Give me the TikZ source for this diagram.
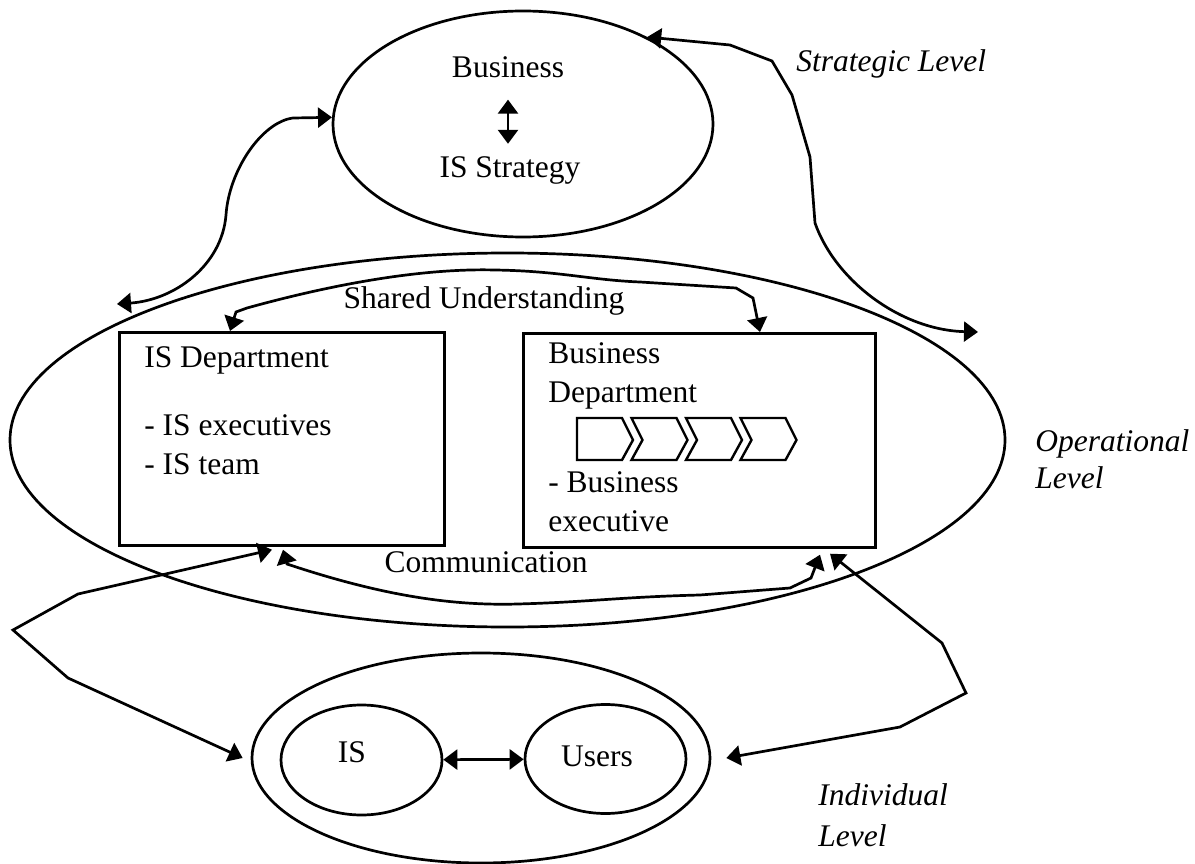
\documentclass[tikz,border=0pt]{standalone}
\usepackage{fontspec}
\setmainfont{Liberation Serif}
\usepackage{tikz}
\usetikzlibrary{shapes.geometric,arrows.meta,positioning}

\begin{document}
\begin{tikzpicture}[
        x=1pt, y=-1pt,
        font=\fontsize{31.5}{39}\selectfont,
        line width=2.7pt,
        oval/.style={
            ellipse,
            draw,
            inner sep=0pt
        },
        dept/.style={
            rectangle,
            draw,
            anchor=north west,
            inner sep=0pt
        },
        txt/.style={
            inner sep=2pt,
            anchor=base west
        },
        level/.style={
            txt,
            font=\fontsize{31.5}{39}\selectfont\itshape
        },
        arrow/.style={
            <->,
            >={Triangle[length=14pt,width=20pt]}
        },
        chev/.style={
            line width=2.4pt,
            line join=miter
        }
    ]
    \useasboundingbox (0,0) rectangle (1195,864);

    % the three levels
    \node[oval, minimum width=380, minimum height=226] (strat) at (523,124) {};
    \node[oval, minimum width=995, minimum height=374] (oper) at (507.5,440) {};
    \node[oval, minimum width=458, minimum height=210] (indiv) at (481,758) {};
    \node[oval, minimum width=161, minimum height=110] (is) at (361.5,760) {};
    \node[oval, minimum width=161, minimum height=109] (users) at (605.5,759) {};

    % departments
    \node[dept, minimum width=325, minimum height=213] (isd) at (118,331) {};
    \node[dept, minimum width=352, minimum height=214] (bus) at (522,332) {};

    % texts
    \node[txt, anchor=base] (bizA) at (508,78) {Business};
    \node[txt, anchor=base] (isstr) at (510,178) {IS Strategy};
    \node[level] (strlvl) at (793,72) {Strategic Level};
    \node[txt, anchor=base] (shared) at (484,308) {Shared Understanding};
    \node[txt] (isdA) at (141,367) {IS Department};
    \node[txt, below=68pt of isdA.base west, anchor=base west] (isdB) {- IS executives};
    \node[txt, below=39pt of isdB.base west, anchor=base west] (isdC) {- IS team};
    \node[txt] (busA) at (545,363) {Business};
    \node[txt, below=39pt of busA.base west, anchor=base west] (busB) {Department};
    \node[txt, below=90pt of busB.base west, anchor=base west] (busC) {- Business};
    \node[txt, below=39pt of busC.base west, anchor=base west] (busD) {executive};
    \node[txt, anchor=base] (comm) at (486,572) {Communication};
    \node[level] (oplvl) at (1032,451) {Operational};
    \node[level, below=37pt of oplvl.base west, anchor=base west] (oplvlB) {Level};
    \node[level] (indlvl) at (815,805) {Individual};
    \node[level, below=41pt of indlvl.base west, anchor=base west] (indlvlB) {Level};
    \node[txt, anchor=base] (istxt) at (352,762) {IS};
    \node[txt, anchor=base] (userstxt) at (597,766) {Users};

    % value chain
    \draw[chev] (577,418) -- (622,418) -- (633,440) -- (622,460) -- (577,460) -- cycle;
    \foreach \i in {1,2,3}
        \draw[chev] ({577+54.5*\i},418) -- ++(45,0) -- ++(11,22) -- ++(-11,20) -- ++(-45,0) -- ++(11,-20) -- cycle;

    % free ends
    \coordinate (tl) at (117,304);
    \coordinate (tr) at (978,332);

    % connections
    \draw[arrow, shorten <=18pt, shorten >=10pt] (bizA.south) -- (bizA.south |- isstr.north);
    \draw[arrow] (tl) .. controls (175,300) and (222,265) .. (226,215) .. controls (229,170) and (262,122) .. (293,118) -- (strat.178);
    \draw[arrow] (strat.35) -- (730,45) -- (772,61) -- (792,95) -- (810,157) -- (815,223) .. controls (835,280) and (900,330) .. (tr);
    \draw[arrow] ([xshift=112]isd.north west) -- (236,312) -- (247,308) .. controls (330,285) and (420,268) .. (495,270) .. controls (560,271) and (590,280) .. (640,282) -- (736,288) -- (753,298) -- ([xshift=238]bus.north west);
    \draw[arrow] ([xshift=165,yshift=-3]isd.south west) -- (287,564) .. controls (380,595) and (450,606) .. (518,604) .. controls (590,602) and (620,597) .. (700,595) -- (790,588) -- (811,578) -- ([xshift=298,yshift=-6]bus.south west);
    \draw[arrow] ([xshift=154,yshift=-3]isd.south west) -- (78,594) -- (13,630) -- (68,678) -- ([xshift=-8]indiv.west);
    \draw[arrow] ([xshift=308,yshift=-5]bus.south west) -- (942,643) -- (966,693) -- (900,727) -- ([xshift=15]indiv.east);
    \draw[arrow] (is) -- (users);

\end{tikzpicture}
\end{document}
